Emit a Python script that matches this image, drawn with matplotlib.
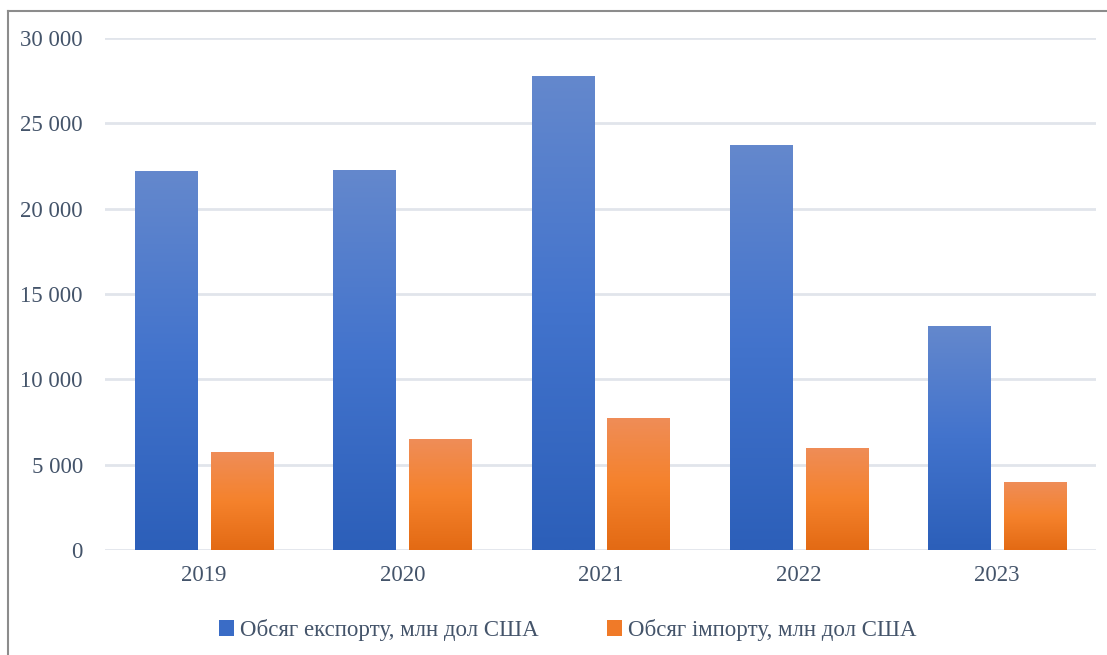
import matplotlib
matplotlib.use("Agg")
import matplotlib.pyplot as plt
import numpy as np
from matplotlib.colors import LinearSegmentedColormap
from matplotlib.patches import Patch
from matplotlib.lines import Line2D

years = ["2019", "2020", "2021", "2022", "2023"]
export_vals = [22200, 22270, 27770, 23730, 13120]
import_vals = [5740, 6500, 7760, 5980, 3980]
series_names = ["Обсяг експорту, млн дол США", "Обсяг імпорту, млн дол США"]
yticks = [0, 5000, 10000, 15000, 20000, 25000, 30000]

plt.rcParams['font.family'] = ['Liberation Serif', 'DejaVu Serif']
txt_color = '#44546a'

fig = plt.figure(figsize=(11.07, 6.55), dpi=100)
ax = fig.add_axes([105/1107, 1-550/655, 991/1107, 512/655])

blue_cmap = LinearSegmentedColormap.from_list('b', ['#2c5fb9', '#4273cc', '#6488cd'])
orange_cmap = LinearSegmentedColormap.from_list('o', ['#e36a14', '#f5822c', '#ef8d58'])

x = np.arange(len(years))
w = 0.313
off = 0.1915

grad = np.linspace(0, 1, 256).reshape(-1, 1)

def draw_bars(xs, vals, cmap):
    bars = ax.bar(xs, vals, width=w, color='none', edgecolor='none', zorder=3)
    for b in bars:
        x0, y0 = b.get_x(), b.get_y()
        x1, y1 = x0 + b.get_width(), y0 + b.get_height()
        im = ax.imshow(grad, cmap=cmap, origin='lower', aspect='auto',
                       extent=[x0, x1, y0, y1], zorder=3, interpolation='bilinear')
        im.set_clip_path(b)

draw_bars(x - off, export_vals, blue_cmap)
draw_bars(x + off, import_vals, orange_cmap)
ax.set_xlim(-0.5, len(years) - 0.5)
ax.set_ylim(0, 30000)
ax.set_aspect('auto')

ax.set_yticks(yticks)
ax.set_yticklabels([f"{v:,}".replace(",", " ") for v in yticks])
ax.set_xticks(x)
ax.set_xticklabels(years)
ax.tick_params(axis='both', length=0, labelsize=16.5, colors=txt_color)
ax.tick_params(axis='y', pad=16)
ax.tick_params(axis='x', pad=11)
ax.grid(axis='y', color='#e1e5eb', linewidth=2, zorder=0)
for s in ax.spines.values():
    s.set_visible(False)

handles = [Patch(facecolor='#3a6cc6'), Patch(facecolor='#f07a28')]
leg = fig.legend(handles, series_names, loc='center', bbox_to_anchor=(0.513, 1-630/655),
                 ncol=2, frameon=False, fontsize=16.5, handlelength=0.65, handleheight=0.65,
                 handletextpad=0.25, columnspacing=3.0)
for t in leg.get_texts():
    t.set_color(txt_color)

fig.add_artist(Line2D([8/1107, 1], [1-11/655, 1-11/655], transform=fig.transFigure,
                      color='#8c8c8c', linewidth=1.5))
fig.add_artist(Line2D([8/1107, 8/1107], [0, 1-11/655], transform=fig.transFigure,
                      color='#8c8c8c', linewidth=1.5))

fig.savefig('out.png', dpi=100)
